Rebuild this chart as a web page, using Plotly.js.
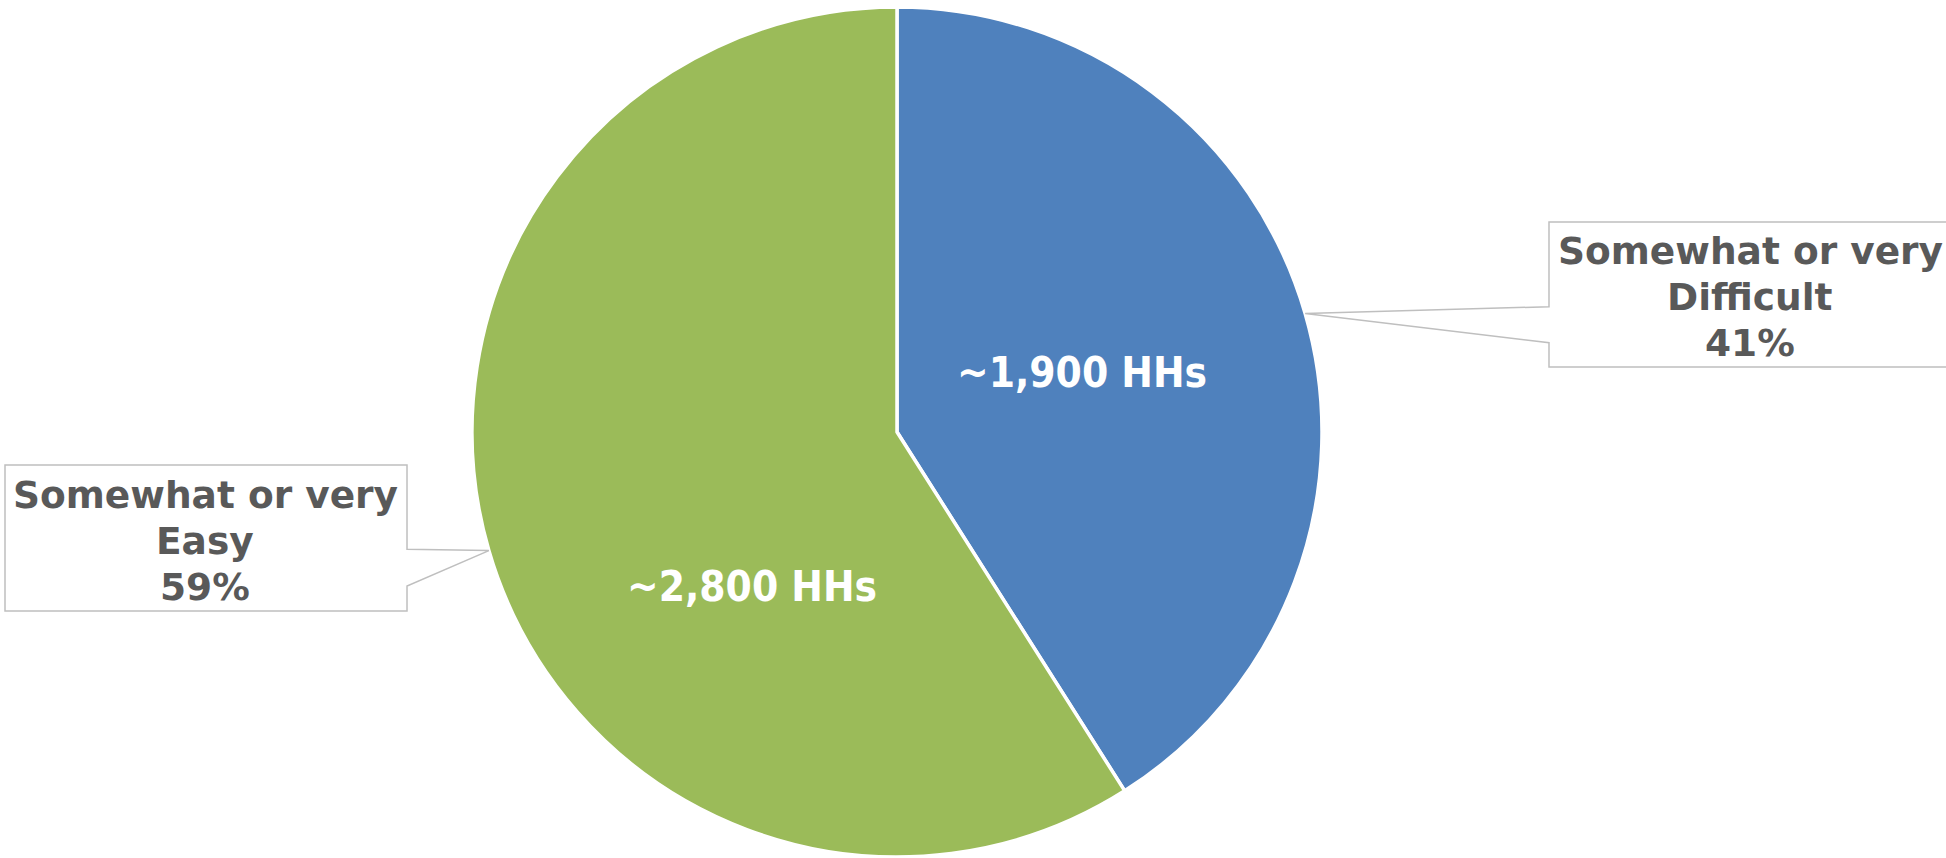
<!DOCTYPE html>
<html>
<head>
<meta charset="utf-8">
<script src="https://cdn.plot.ly/plotly-3.0.1.min.js"></script>
<style>html,body{margin:0;padding:0;background:#fff;}#chart{width:1946px;height:858px;}</style>
</head>
<body>
<div id="chart"></div>
<script>
// ---- data ----
const categoryPrefix = 'Somewhat or very';
const categories = ['Difficult', 'Easy'];
const sharePct = [41, 59];
const households = [1900, 2800];
const colors = ['#4F81BD', '#9BBB59'];

// ---- layout geometry (pixels) ----
const W = 1946, H = 858;
const cx = 897, cy = 432, R = 425;
const px = x => x / W;
const py = y => 1 - y / H;

const trace = {
  type: 'pie',
  values: sharePct,
  labels: categories,
  sort: false,
  direction: 'clockwise',
  rotation: 0,
  textinfo: 'none',
  hoverinfo: 'skip',
  showlegend: false,
  marker: {colors: colors, line: {color: '#ffffff', width: 3.5}},
  domain: {x: [px(cx - R), px(cx + R)], y: [py(cy + R), py(cy - R)]}
};

// slice mid angles (clockwise from 12 o'clock) from data
const total = sharePct.reduce((a, b) => a + b, 0);
let acc = 0;
const tips = sharePct.map(v => {
  const mid = (acc + v / 2) / total * 2 * Math.PI;
  acc += v;
  return [cx + R * Math.sin(mid), cy - R * Math.cos(mid)];
});

const lineStyle = {color: '#BFBFBF', width: 1.5};
function pathOf(pts) {
  return 'M' + pts.map(p => px(p[0]).toFixed(5) + ',' + py(p[1]).toFixed(5)).join(' L') + ' Z';
}
// callout boxes
const boxes = [
  {l: 1549, t: 222, r: 1950, b: 367, j1: 306.7, j2: 342.7, side: 'left', tx: 1750},
  {l: 5, t: 465, r: 407, b: 611, j1: 549.3, j2: 586, side: 'right', tx: 205}
];
const shapes = boxes.map((b, i) => {
  const tip = tips[i];
  let pts;
  if (b.side === 'left') {
    pts = [tip, [b.l, b.j1], [b.l, b.t], [b.r, b.t], [b.r, b.b], [b.l, b.b], [b.l, b.j2]];
  } else {
    pts = [tip, [b.r, b.j2], [b.r, b.b], [b.l, b.b], [b.l, b.t], [b.r, b.t], [b.r, b.j1]];
  }
  return {type: 'path', xref: 'paper', yref: 'paper', path: pathOf(pts),
          fillcolor: '#ffffff', line: lineStyle, layer: 'above'};
});

const outerFont = {family: 'DejaVu Sans', size: 37.5, color: '#595959', weight: 'bold'};
const innerFont = {family: 'DejaVu Sans Condensed', size: 42, color: '#ffffff', weight: 'bold'};
const lineGap = 46;

const annotations = [];
boxes.forEach((b, i) => {
  const lines = [categoryPrefix, categories[i], Math.round(sharePct[i] / total * 100) + '%'];
  const mid = (b.t + b.b) / 2 + 2.5;
  lines.forEach((t, k) => {
    annotations.push({
      xref: 'paper', yref: 'paper',
      x: px(b.tx), y: py(mid + (k - 1) * lineGap),
      xanchor: 'center', yanchor: 'middle', showarrow: false,
      align: 'center', font: outerFont, text: t
    });
  });
});
const innerPos = [[1082, 372], [752, 586]];
households.forEach((h, i) => {
  annotations.push({
    xref: 'paper', yref: 'paper',
    x: px(innerPos[i][0]), y: py(innerPos[i][1]),
    xanchor: 'center', yanchor: 'middle', showarrow: false,
    font: innerFont,
    text: '~' + h.toLocaleString('en-US') + ' HHs'
  });
});

const layout = {
  width: W, height: H,
  margin: {l: 0, r: 0, t: 0, b: 0, pad: 0},
  paper_bgcolor: '#ffffff', plot_bgcolor: '#ffffff',
  showlegend: false,
  shapes: shapes,
  annotations: annotations
};

Plotly.newPlot('chart', [trace], layout, {displayModeBar: false, staticPlot: true});
</script>
</body>
</html>
